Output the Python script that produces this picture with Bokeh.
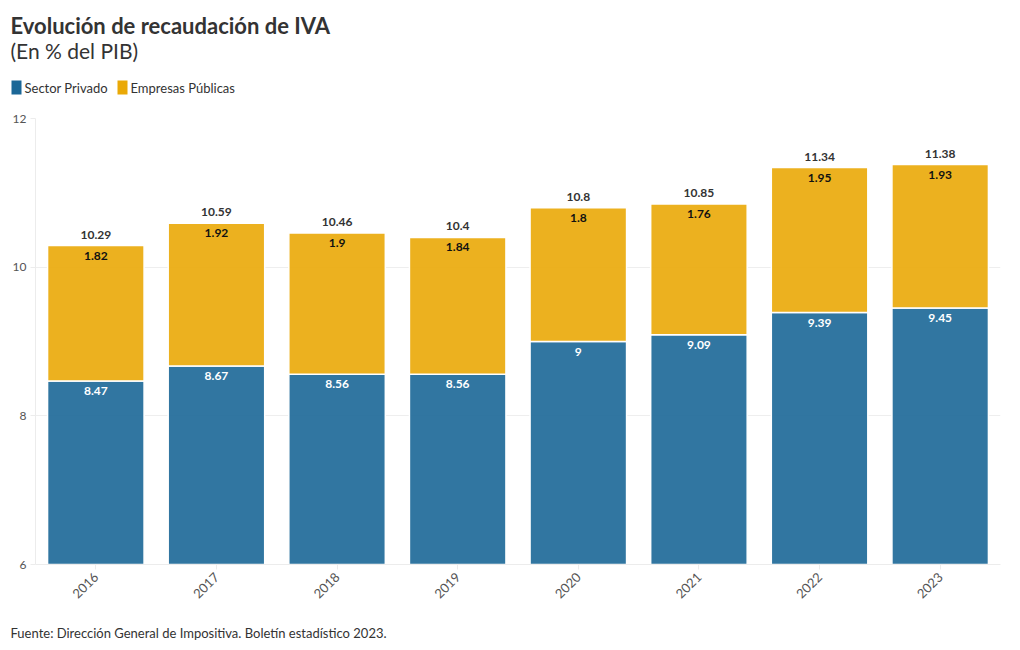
import math
from bokeh.plotting import figure
from bokeh.layouts import column, row
from bokeh.models import ColumnDataSource, FactorRange, Range1d, FixedTicker
from bokeh.core.properties import value
from bokeh.embed import file_html
from bokeh.resources import INLINE

years = ["2016", "2017", "2018", "2019", "2020", "2021", "2022", "2023"]
privado = [8.47, 8.67, 8.56, 8.56, 9.0, 9.09, 9.39, 9.45]
publicas = [1.82, 1.92, 1.9, 1.84, 1.8, 1.76, 1.95, 1.93]
totales = [10.29, 10.59, 10.46, 10.4, 10.8, 10.85, 11.34, 11.38]
y_ticks = [6, 8, 10, 12]
series_names = ["Sector Privado", "Empresas Públicas"]
title_text = "Evolución de recaudación de IVA"
subtitle_text = "(En % del PIB)"
source_text = "Fuente: Dirección General de Impositiva. Boletín estadístico 2023."

FONT = "Lato"
BLUE = "#1b6797"
YELLOW = "#eaa907"
TXT = "#333333"
W = 1004
FL, FR = 35, 1000   # frame left/right in page pixels


def fmt(v):
    return ("%.2f" % v).rstrip("0").rstrip(".")


def blank(height):
    f = figure(width=W, height=height, x_range=Range1d(0, W), y_range=Range1d(height, 0),
               output_backend="svg", toolbar_location=None,
               x_axis_location=None, y_axis_location=None,
               min_border=0, min_border_left=0, min_border_right=0,
               min_border_top=0, min_border_bottom=0)
    f.grid.visible = False
    f.outline_line_color = None
    return f


# ---------- header ----------
head = blank(110)
head.text(x=[10], y=[25], text=[title_text], text_font=value(FONT), text_font_style="bold",
          text_font_size="22px", text_color=TXT, text_baseline="middle")
head.text(x=[10], y=[50], text=[subtitle_text], text_font=value(FONT),
          text_font_size="21px", text_color=TXT, text_baseline="middle")
head.quad(left=[11, 117], right=[21, 127], top=[80, 80], bottom=[94, 94],
          fill_color=[BLUE, YELLOW], line_color=None)
head.text(x=[24, 130], y=[87, 87], text=series_names, text_font=value(FONT),
          text_font_size="13px", text_color=TXT, text_baseline="middle")

# ---------- main chart ----------
src = ColumnDataSource(dict(
    x=years, priv=privado, pub=publicas, tot=totales,
    priv_lbl=[fmt(v) for v in privado],
    pub_lbl=[fmt(v) for v in publicas],
    tot_lbl=[fmt(v) for v in totales],
))

p = figure(width=W, height=500, x_range=FactorRange(*years), y_range=Range1d(6, 12),
           output_backend="svg", toolbar_location=None,
           min_border_left=FL, min_border_right=W - FR, min_border_top=8, min_border_bottom=46)
p.outline_line_color = None

p.vbar(x="x", bottom=0, top="priv", width=0.8, source=src, fill_color=BLUE, fill_alpha=0.9,
       line_color="white", line_width=1.5)
p.vbar(x="x", bottom="priv", top="tot", width=0.8, source=src, fill_color=YELLOW, fill_alpha=0.9,
       line_color="white", line_width=1.5)

p.text(x="x", y="tot", text="tot_lbl", source=src, text_align="center", text_baseline="middle",
       y_offset=-11, text_font=value(FONT), text_font_style="bold", text_font_size="12px",
       text_color=TXT)
p.text(x="x", y="tot", text="pub_lbl", source=src, text_align="center", text_baseline="middle",
       y_offset=10, text_font=value(FONT), text_font_style="bold", text_font_size="12px",
       text_color="#111111")
p.text(x="x", y="priv", text="priv_lbl", source=src, text_align="center", text_baseline="middle",
       y_offset=10, text_font=value(FONT), text_font_style="bold", text_font_size="12px",
       text_color="#ffffff")

p.yaxis.ticker = FixedTicker(ticks=y_ticks)
p.yaxis.axis_line_color = "#ececec"
p.yaxis.major_tick_line_color = "#ececec"
p.yaxis.major_tick_out = 5
p.yaxis.major_tick_in = 0
p.yaxis.minor_tick_line_color = None
p.yaxis.major_label_text_font = FONT
p.yaxis.major_label_text_font_size = "12px"
p.yaxis.major_label_text_color = "#555555"
p.yaxis.major_label_standoff = 4

p.xaxis.axis_line_color = "#ececec"
p.xaxis.major_tick_line_color = "#ececec"
p.xaxis.major_tick_out = 5
p.xaxis.major_tick_in = 0
p.xaxis.major_label_orientation = math.pi / 4
p.xaxis.major_label_text_font = FONT
p.xaxis.major_label_text_font_size = "13px"
p.xaxis.major_label_text_color = "#555555"
p.xaxis.major_label_standoff = 5

p.xgrid.grid_line_color = None
p.ygrid.grid_line_color = "#eeeeee"
p.ygrid.ticker = FixedTicker(ticks=y_ticks)

# ---------- footer ----------
foot = blank(34)
foot.text(x=[10], y=[22], text=[source_text], text_font=value(FONT),
          text_font_size="13px", text_color=TXT, text_baseline="middle")

layout = column(row(head), p, row(foot), spacing=0)
open("out.html", "w").write(file_html(layout, INLINE))
